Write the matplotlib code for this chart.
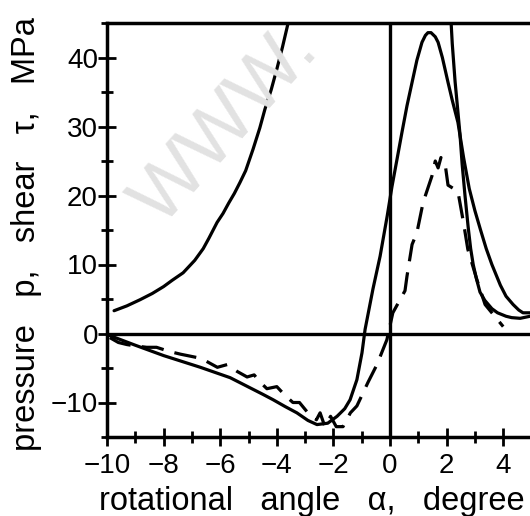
import matplotlib
matplotlib.use("Agg")
import matplotlib.pyplot as plt
from matplotlib.ticker import MultipleLocator

plt.rcParams['font.family'] = ['Liberation Sans', 'DejaVu Sans']

# left pressure branch (entry side)
p_left_a = [-9.75, -9.3, -8.83, -8.4, -8.0, -7.7, -7.31, -6.9, -6.6, -6.4, -6.11, -5.9, -5.7,
            -5.5, -5.3, -5.1, -4.84, -4.6, -4.42, -4.2, -4.0, -3.8, -3.6, -3.45]
p_left_v = [3.3, 4.0, 4.9, 5.8, 6.8, 7.7, 8.8, 10.6, 12.3, 13.8, 16.1, 17.4, 18.9,
            20.3, 21.9, 23.6, 26.7, 29.8, 32.5, 35.3, 38.3, 41.5, 45.0, 48.0]

# right pressure branch (exit side)
p_right_a = [2.12, 2.16, 2.2, 2.3, 2.38, 2.47, 2.55, 2.65, 2.76, 2.85, 2.94, 3.05, 3.18,
             3.35, 3.6, 3.8, 4.1, 4.3, 4.6, 4.95]
p_right_v = [48.0, 45.0, 42.0, 36.5, 33.0, 29.0, 24.5, 20.0, 15.5, 12.3, 10.0, 8.0, 6.0,
             4.8, 3.6, 3.0, 2.5, 2.3, 2.2, 2.5]

# calculated shear stress
tau_calc_a = [-9.9, -9.0, -8.0, -6.7, -5.65, -4.5, -4.13, -3.7, -3.29, -2.9, -2.58, -2.2,
              -1.87, -1.6, -1.41, -1.17, -0.99, -0.88, -0.6, -0.35, -0.1, 0.07, 0.25, 0.42,
              0.6, 0.78, 0.95, 1.13, 1.25, 1.34, 1.45, 1.6, 1.7, 1.85, 2.05, 2.2, 2.4, 2.6,
              2.8, 3.0, 3.2, 3.4, 3.6, 3.9, 4.1, 4.35, 4.55, 4.7, 4.95]
tau_calc_v = [-0.3, -1.7, -3.2, -4.9, -6.4, -8.8, -9.6, -10.6, -11.5, -12.6, -13.2, -13.0,
              -12.0, -10.9, -9.6, -6.7, -2.8, 0.6, 6.5, 11.2, 17.0, 21.3, 25.3, 29.1,
              33.0, 36.4, 39.6, 42.2, 43.2, 43.6, 43.6, 43.0, 42.2, 40.0, 36.4, 33.8, 30.6,
              25.5, 21.0, 17.8, 15.0, 12.3, 10.0, 7.0, 5.4, 4.2, 3.4, 3.0, 3.0]

# measured shear stress
tau_meas_a = [-9.9, -9.6, -9.3, -9.0, -8.6, -8.25, -7.8, -7.4, -6.8, -6.5, -6.1, -5.75,
              -5.4, -5.05, -4.8, -4.6, -4.35, -4.0, -3.7, -3.43, -3.2, -2.9, -2.6, -2.47,
              -2.3, -2.1, -1.9, -1.66, -1.4, -1.17, -0.78, -0.46, -0.11, 0.1, 0.53, 0.6,
              0.78, 0.95, 1.17, 1.48, 1.6, 1.7, 1.8, 1.95, 2.05, 2.4, 2.6, 2.75, 3.07,
              3.36, 3.7, 4.0]
tau_meas_v = [-0.6, -1.3, -1.6, -1.8, -2.0, -2.0, -2.6, -3.0, -3.5, -4.0, -4.9, -4.5,
              -5.5, -6.3, -6.0, -7.0, -8.0, -7.7, -9.0, -10.0, -10.0, -11.5, -12.5, -11.5,
              -13.5, -12.0, -13.5, -13.5, -11.5, -10.5, -7.1, -4.5, -0.9, 3.0, 6.2, 8.3,
              12.9, 14.6, 19.0, 22.8, 25.0, 24.0, 25.5, 24.5, 21.5, 20.6, 16.0, 12.2, 7.8,
              4.2, 2.5, 1.0]

xticks = [-10, -8, -6, -4, -2, 0, 2, 4]
yticks = [-10, 0, 10, 20, 30, 40]

fig = plt.figure(figsize=(5.3, 5.16), dpi=100)
ax = fig.add_axes([107 / 530, 79 / 516, 424.5 / 530, 414 / 516])

# faint watermark
fig.text(226 / 530, 1 - 126 / 516, "WWW.", fontsize=56, color="#e2e2e2", rotation=48,
         ha="center", va="center", zorder=0)
ax.set_facecolor("none")

lw = 2.3
ax.plot(p_left_a, p_left_v, color="black", lw=lw, solid_capstyle="round", solid_joinstyle="round")
ax.plot(p_right_a, p_right_v, color="black", lw=lw, solid_capstyle="round", solid_joinstyle="round")
ax.plot(tau_calc_a, tau_calc_v, color="black", lw=lw, solid_capstyle="round", solid_joinstyle="round")
ax.plot(tau_meas_a, tau_meas_v, color="black", lw=lw, linestyle=(0, (7, 3.5)))

ax.axhline(0, color="black", lw=2.4)
ax.axvline(0, color="black", lw=2.4)

ax.set_xlim(-10, 5)
ax.set_ylim(-15, 45)
ax.set_xticks(xticks)
ax.set_yticks(yticks)
ax.xaxis.set_minor_locator(MultipleLocator(1))
ax.yaxis.set_minor_locator(MultipleLocator(5))
ax.tick_params(which="major", direction="inout", length=13, width=2, labelsize=20,
               top=False, right=False)
ax.tick_params(which="minor", direction="inout", length=8, width=2, top=False, right=False)
ax.tick_params(axis="x", which="major", pad=5)
ax.tick_params(axis="y", which="major", pad=0)

for side in ["left", "bottom", "top"]:
    ax.spines[side].set_linewidth(2.5)
ax.spines["right"].set_visible(False)

fig.text(312 / 530, 1 - 510 / 516, "rotational   angle   \u03b1,   degree",
         fontsize=23.5, ha="center", va="baseline")
fig.text(27 / 530, 1 - 234 / 516, "pressure   p,   shear   \u03c4,   MPa",
         fontsize=23.5, ha="center", va="center", rotation=90)

fig.savefig("out.png", dpi=100)
